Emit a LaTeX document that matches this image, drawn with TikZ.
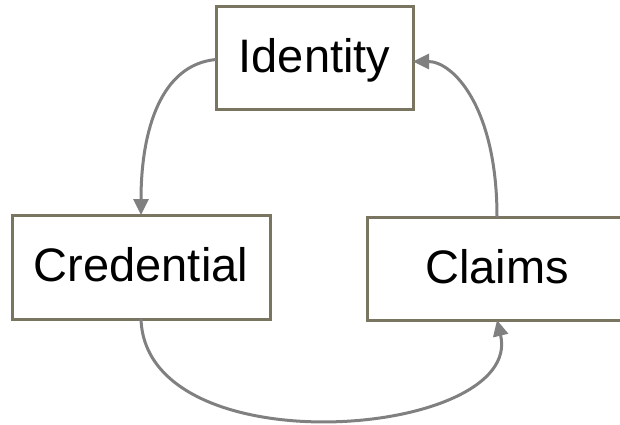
\documentclass[tikz,border=0pt]{standalone}
\usepackage{fontspec}
\setmainfont{Liberation Sans}
\usetikzlibrary{arrows.meta}
\definecolor{boxline}{HTML}{7A7560}
\definecolor{arrowgray}{HTML}{808080}
\tikzset{
  box/.style={draw=boxline, line width=3pt, fill=white, inner sep=0pt, outer sep=0pt,
    text height=29pt, text depth=0pt, font=\fontsize{47}{56}\selectfont},
  conn/.style={draw=arrowgray, line width=3pt, -{Triangle[length=16pt,width=15pt]}}
}
\begin{document}
\begin{tikzpicture}[x=1pt,y=-1pt]
\useasboundingbox (0,0) rectangle (620,424);
\node[box, minimum width=197pt, minimum height=103pt] (id) at (314.5,57.5) {Identity};
\node[box, minimum width=258pt, minimum height=104pt] (cred) at (141,267) {Credential};
\node[box, minimum width=260pt, minimum height=103pt] (cl) at (497,268.5) {Claims};
\draw[conn] ([yshift=-2pt]id.west) .. controls +(-55,5) and +(0,-85) .. (cred.north);
\draw[conn] (cred.south) .. controls +(5,150) and +(28,118) .. (cl.south);
\draw[conn] (cl.north) .. controls +(0,-110) and +(40,0) .. ([yshift=-4pt]id.east);
\end{tikzpicture}
\end{document}
